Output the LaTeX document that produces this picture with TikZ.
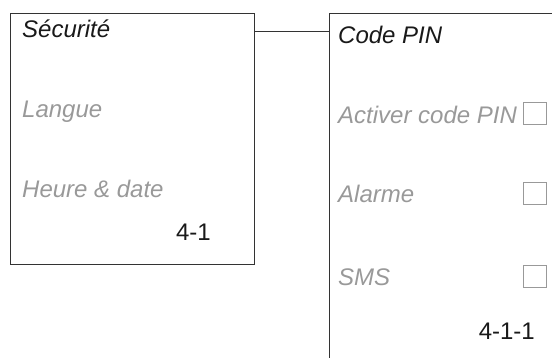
\documentclass[tikz,border=0pt]{standalone}
\usepackage{fontspec}
\setmainfont{Liberation Sans}
\begin{document}
\begin{tikzpicture}[x=1pt,y=-1pt,
  frame/.style={draw=black!80,line width=1.1pt,inner sep=0pt,anchor=north west},
  title/.style={font=\fontsize{24}{24}\selectfont\itshape,text=black!90,anchor=base west,inner sep=0pt},
  item/.style={font=\fontsize{24}{24}\selectfont\itshape,text=black!40,anchor=base west,inner sep=0pt},
  pagenum/.style={font=\fontsize{24}{24}\selectfont,text=black!90,anchor=base east,inner sep=0pt},
  cbox/.style={draw=black!40,line width=0.9pt,inner sep=0pt,minimum width=23pt,minimum height=22pt,anchor=north west},
  link/.style={draw=black!80,line width=1.1pt}]
\useasboundingbox (0,0) rectangle (552,358);
\clip (0,0) rectangle (552,358);
% left box
\node[frame,minimum width=244pt,minimum height=251pt] (lbox) at (10,12.7) {};
\node[title] (t1) at (22,38) {Sécurité};
\node[item] (l1) at (22,118) {Langue};
\node[item] (l2) at (22,198) {Heure \& date};
\node[pagenum] (n1) at (211,241) {4-1};
% right box (cut off by the page)
\node[frame,minimum width=260pt,minimum height=370pt] (rbox) at (328.7,12.7) {};
\node[title] (t2) at (338,44) {Code PIN};
\node[item] (r1) at (338,124) {Activer code PIN};
\node[item] (r2) at (338,203) {Alarme};
\node[item] (r3) at (338,286) {SMS};
\node[pagenum] (n2) at (535,339) {4-1-1};
\node[cbox] (c1) at (522.5,102) {};
\node[cbox] (c2) at (522.5,182) {};
\node[cbox] (c3) at (522.5,265) {};
% connector
\coordinate (a) at ([yshift=-18.6pt]lbox.north east);
\draw[link] (a) -- (a -| rbox.west);
\end{tikzpicture}
\end{document}
